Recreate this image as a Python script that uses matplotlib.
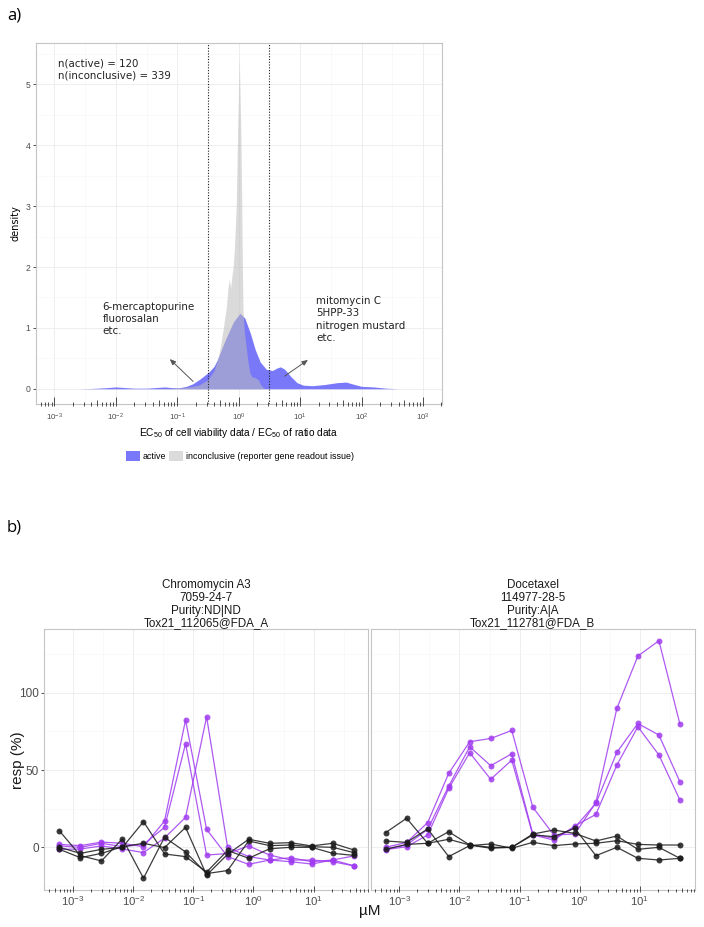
import numpy as np
import matplotlib
matplotlib.use('Agg')
import matplotlib.pyplot as plt
import matplotlib.transforms as mtransforms
from matplotlib.patches import Patch
from matplotlib.ticker import FixedLocator, NullFormatter

plt.rcParams['font.family'] = ['Liberation Sans', 'DejaVu Sans']
plt.rcParams['mathtext.fontset'] = 'custom'
plt.rcParams['mathtext.rm'] = 'Liberation Sans'
plt.rcParams['mathtext.it'] = 'Liberation Sans:italic'
plt.rcParams['mathtext.bf'] = 'Liberation Sans:bold'

# ---------------- panel a data ----------------
active_log_ratio = [-2.6, -2.4, -2.2, -2.0, -1.85, -1.7, -1.5, -1.35, -1.2, -1.1,
                    -1.0, -0.95, -0.85, -0.75, -0.63, -0.49, -0.4, -0.35, -0.22, -0.085,
                    0.02, 0.1, 0.19, 0.27, 0.35, 0.45, 0.55, 0.62, 0.68, 0.75,
                    0.85, 0.95, 1.05, 1.2, 1.4, 1.6, 1.75, 1.85, 2.0, 2.2,
                    2.4, 2.6]
active_density = [0.0, 0.005, 0.015, 0.03, 0.02, 0.01, 0.01, 0.02, 0.03, 0.02,
                  0.015, 0.02, 0.04, 0.08, 0.16, 0.27, 0.37, 0.47, 0.8, 1.1,
                  1.24, 1.16, 0.91, 0.64, 0.44, 0.32, 0.3, 0.34, 0.36, 0.32,
                  0.2, 0.1, 0.06, 0.05, 0.07, 0.1, 0.11, 0.08, 0.04, 0.03,
                  0.01, 0.0]
inconclusive_log_ratio = [-1.3, -1.0, -0.8, -0.65, -0.5, -0.4, -0.35, -0.3, -0.25, -0.2,
                          -0.17, -0.15, -0.13, -0.11, -0.09, -0.07, -0.04, -0.02, 0.01, 0.035,
                          0.05, 0.06, 0.07, 0.09, 0.12, 0.15, 0.18, 0.21, 0.27, 0.32,
                          0.36, 0.42]
inconclusive_density = [0.0, 0.01, 0.03, 0.06, 0.15, 0.3, 0.45, 0.68, 1.0, 1.35,
                        1.7, 1.8, 1.65, 1.85, 2.0, 2.3, 3.0, 4.1, 5.45, 4.2,
                        3.0, 2.0, 1.3, 0.95, 0.7, 0.45, 0.27, 0.2, 0.18, 0.15,
                        0.06, 0.0]
n_active = 120
n_inconclusive = 339
cutoff_exponents = [-0.5, 0.5]
left_examples = ["6-mercaptopurine", "fluorosalan", "etc."]
right_examples = ["mitomycin C", "5HPP-33", "nitrogen mustard", "etc."]
legend_labels = ["active", "inconclusive (reporter gene readout issue)"]

# ---------------- panel b data ----------------
conc_uM = [0.000592, 0.00132, 0.00296, 0.00662, 0.0148, 0.0331, 0.0741, 0.166,
           0.371, 0.830, 1.86, 4.15, 9.29, 20.8, 46.5]
titles = ["Chromomycin A3\n7059-24-7\nPurity:ND|ND\nTox21_112065@FDA_A",
          "Docetaxel\n114977-28-5\nPurity:A|A\nTox21_112781@FDA_B"]
chromo_purple = [
    [1.9, 1.1, 3.4, 2.6, 0.4, 17.0, 82.3, 11.6, -6.0, -11.0, -8.2, -9.3, -10.8, -8.2, -11.9],
    [0.9, 0.0, 2.6, 0.4, 1.9, 12.9, 67.0, -5.0, -4.0, 0.9, -5.0, -8.2, -8.2, -9.3, -12.0],
    [-1.3, -1.1, 0.9, -1.1, -3.4, 6.0, 19.4, 84.4, 0.0, -6.0, -8.2, -6.7, -9.3, -8.2, -5.6],
]
chromo_black = [
    [10.6, -5.4, -8.8, 5.6, -20.0, 6.5, -3.0, -17.0, -15.0, 4.1, 1.1, 1.5, 0.4, 0.0, -3.4],
    [0.0, -3.9, -1.3, 0.0, 16.6, -4.3, -6.0, -16.0, -2.0, -7.1, -0.9, 0.0, 0.0, -3.9, -5.2],
    [-1.3, -6.7, -3.9, 0.4, 2.6, -0.2, 12.9, -18.0, -4.5, 5.2, 2.6, 3.0, 0.9, 2.6, -1.7],
]
doce_purple = [
    [0.0, 3.2, 16.0, 47.8, 68.3, 70.4, 75.6, 25.9, 8.0, 8.6, 29.0, 89.8, 123.7, 133.6, 79.7],
    [-1.0, 1.5, 11.6, 39.6, 65.0, 52.8, 60.5, 8.6, 5.8, 12.9, 28.4, 61.4, 80.1, 72.6, 42.4],
    [-1.5, 0.4, 8.0, 38.1, 61.2, 44.0, 56.4, 8.0, 4.7, 13.8, 21.3, 53.2, 78.0, 59.7, 30.6],
]
doce_black = [
    [9.5, 18.8, 2.6, 5.2, 1.5, 0.0, 0.0, 8.0, 6.9, 12.3, -5.4, 0.0, -7.1, -8.2, -7.1],
    [4.1, 3.2, 11.9, -6.0, 1.1, 2.2, -0.6, 3.2, 1.1, 2.2, 2.6, 4.3, 1.9, 1.5, 1.5],
    [-1.3, 1.9, 2.6, 10.1, 1.5, -0.6, 0.0, 8.6, 11.2, 9.0, 4.1, 7.3, -1.3, 0.0, -7.1],
]

BLUE = '#7878F8'
GRAY = '#BDBDBD'
PURPLE = '#A03CF0'
BLACK = '#1A1A1A'
GRID_MAJ = '#EBEBEB'
GRID_MIN = '#F5F5F5'
BORDER = '#C4C4C4'
TICKTXT = '#4D4D4D'

W, H = 704, 927
fig = plt.figure(figsize=(W / 100, H / 100), dpi=100)


def logticks(ax, kmin, kmax, long_px, height_px, start_px=-2.0):
    trans = mtransforms.blended_transform_factory(ax.transData, ax.transAxes)
    lo, hi = ax.get_xlim()
    for k in range(kmin, kmax + 1):
        for m in range(1, 10):
            v = m * 10.0 ** k
            if v < lo or v > hi:
                continue
            L = long_px if m == 1 else (long_px * 0.65 if m == 5 else long_px * 0.4)
            y0 = start_px / height_px
            y1 = (start_px + L) / height_px
            ax.plot([v, v], [y0, y1], transform=trans, color='#333333', lw=0.6,
                    clip_on=False, zorder=6, solid_capstyle='butt')


def style_grid(ax):
    ax.grid(True, which='major', color=GRID_MAJ, lw=0.6, zorder=0)
    ax.grid(True, which='minor', color=GRID_MIN, lw=0.4, zorder=0)
    ax.set_axisbelow(True)
    for s in ax.spines.values():
        s.set_color(BORDER)
        s.set_linewidth(0.8)


# ---------------- panel a ----------------
ax_l, ax_r, ax_t, ax_b = 36, 442, 43, 404
ax_a = fig.add_axes([ax_l / W, 1 - ax_b / H, (ax_r - ax_l) / W, (ax_b - ax_t) / H])
ax_a.set_xscale('log')
ax_a.fill_between(10 ** np.array(active_log_ratio), active_density, 0,
                  color=BLUE, lw=0, zorder=2)
ax_a.fill_between(10 ** np.array(inconclusive_log_ratio), inconclusive_density, 0,
                  color=GRAY, alpha=0.55, lw=0, zorder=3)
for e in cutoff_exponents:
    ax_a.axvline(10 ** e, color='#222222', lw=0.8, ls=(0, (1, 1.5)), zorder=4)
ax_a.set_xlim(10 ** -3.3, 10 ** 3.31)
ax_a.set_ylim(-0.25, 5.68)
ax_a.xaxis.set_major_locator(FixedLocator([10.0 ** k for k in range(-3, 4)]))
ax_a.xaxis.set_minor_locator(FixedLocator([10.0 ** (k + 0.5) for k in range(-4, 4)]))
ax_a.xaxis.set_minor_formatter(NullFormatter())
ax_a.set_xticklabels([r'$10^{%d}$' % k for k in range(-3, 4)])
ax_a.yaxis.set_major_locator(FixedLocator([0, 1, 2, 3, 4, 5]))
ax_a.yaxis.set_minor_locator(FixedLocator([0.5, 1.5, 2.5, 3.5, 4.5, 5.5]))
ax_a.tick_params(axis='x', which='both', length=0, pad=5.5, labelsize=5.8, labelcolor=TICKTXT)
ax_a.tick_params(axis='y', which='major', length=2.5, width=0.6, color='#333333',
                 labelsize=6.2, labelcolor=TICKTXT, pad=1.5)
ax_a.tick_params(axis='y', which='minor', length=0)
style_grid(ax_a)
logticks(ax_a, -4, 3, 9, ax_b - ax_t)
ax_a.set_ylabel('density', fontsize=7, labelpad=4, family=['DejaVu Sans'])
ax_a.set_xlabel('EC$_{50}$ of cell viability data / EC$_{50}$ of ratio data',
                fontsize=7.3, labelpad=2)

txt_kw = dict(ha='left', va='top', fontsize=7.4, family=['DejaVu Sans'],
              color='#222222', linespacing=1.28)
ax_a.text(0.053, 0.958, 'n(active) = %d\nn(inconclusive) = %d' % (n_active, n_inconclusive),
          transform=ax_a.transAxes, **txt_kw)
ax_a.text(0.164, 0.283, '\n'.join(left_examples), transform=ax_a.transAxes, **txt_kw)
ax_a.text(0.690, 0.299, '\n'.join(right_examples), transform=ax_a.transAxes, **txt_kw)
arrow_kw = dict(arrowstyle='-|>,head_length=0.35,head_width=0.15', color='#555555', lw=0.7)
ax_a.annotate('', xy=(0.07, 0.52), xytext=(0.195, 0.09), arrowprops=arrow_kw, zorder=5)
ax_a.annotate('', xy=(14.6, 0.5), xytext=(5.1, 0.18), arrowprops=arrow_kw, zorder=5)

fig.legend(handles=[Patch(facecolor=BLUE, edgecolor='none', label=legend_labels[0]),
                    Patch(facecolor='#DBDBDB', edgecolor='none', label=legend_labels[1])],
           loc='center', bbox_to_anchor=(240 / W, 1 - 456 / H), ncol=2, frameon=False,
           fontsize=6.4, handlelength=1.6, handleheight=1.3, handletextpad=0.3,
           columnspacing=0.3)

fig.text(7 / W, 1 - 16 / H, 'a)', fontsize=12, va='center', ha='left',
         family=['Open Sans', 'DejaVu Sans'])
fig.text(7 / W, 1 - 528 / H, 'b)', fontsize=12, va='center', ha='left',
         family=['Open Sans', 'DejaVu Sans'])

# ---------------- panel b ----------------
b_top, b_bot = 629.3, 890
panels = [(44.3, 368.3), (370.5, 694.5)]
purple_sets = [chromo_purple, doce_purple]
black_sets = [chromo_black, doce_black]
for i, (pl, pr) in enumerate(panels):
    ax = fig.add_axes([pl / W, 1 - b_bot / H, (pr - pl) / W, (b_bot - b_top) / H])
    ax.set_xscale('log')
    for s in purple_sets[i]:
        ax.plot(conc_uM, s, '-o', color=PURPLE, alpha=0.85, lw=0.9, ms=4.3,
                mec='none', zorder=3)
    for s in black_sets[i]:
        ax.plot(conc_uM, s, '-o', color=BLACK, alpha=0.85, lw=0.9, ms=4.3,
                mec='none', zorder=3)
    ax.set_xlim(10 ** -3.48, 10 ** 1.91)
    ax.set_ylim(-27.6, 141)
    ax.xaxis.set_major_locator(FixedLocator([10.0 ** k for k in range(-3, 2)]))
    ax.xaxis.set_minor_locator(FixedLocator([10.0 ** (k + 0.5) for k in range(-4, 2)]))
    ax.xaxis.set_minor_formatter(NullFormatter())
    ax.set_xticklabels([r'$10^{%d}$' % k for k in range(-3, 2)])
    ax.yaxis.set_major_locator(FixedLocator([0, 50, 100]))
    ax.yaxis.set_minor_locator(FixedLocator([-25, 25, 75, 125]))
    ax.tick_params(axis='x', which='both', length=0, pad=3, labelsize=8.2, labelcolor=TICKTXT)
    ax.tick_params(axis='y', which='minor', length=0)
    if i == 0:
        ax.tick_params(axis='y', which='major', length=2.5, width=0.6, color='#333333',
                       labelsize=8.5, labelcolor=TICKTXT, pad=1.5)
    else:
        ax.tick_params(axis='y', which='major', left=False, labelleft=False)
    style_grid(ax)
    logticks(ax, -4, 1, 6.5, b_bot - b_top, start_px=-2.0)
    ax.set_title(titles[i], fontsize=8.4, linespacing=1.08, pad=0.5, color='#1A1A1A')

fig.text(18 / W, 1 - 760 / H, 'resp (%)', rotation=90, fontsize=11, ha='center',
         va='center', color='#1A1A1A')
fig.text(370 / W, 1 - 911 / H, 'µM', fontsize=11, ha='center', va='center',
         color='#1A1A1A')

fig.savefig('out.png', dpi=100)
